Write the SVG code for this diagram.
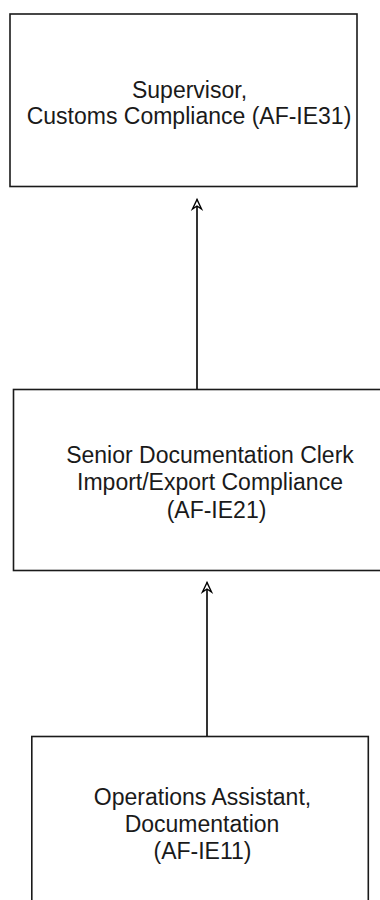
<svg xmlns="http://www.w3.org/2000/svg" width="380" height="900" viewBox="0 0 380 900">
  <style>
    .box { fill: #ffffff; stroke: #1a1a1a; stroke-width: 1.6; }
    .lbl { font-family: "Liberation Sans", Arial, sans-serif; font-size: 23px; fill: #1a1a1a; text-anchor: middle; }
    .conn { stroke: #000000; stroke-width: 1.6; fill: none; }
  </style>
  <defs>
    <marker id="arrow" markerUnits="userSpaceOnUse" markerWidth="14" markerHeight="14" viewBox="-7 -1 14 14" refX="0" refY="0" orient="auto-start-reverse">
      <path d="M0,0 L-4.5,9.5 L0,6.5 L4.5,9.5 Z" fill="#ffffff" stroke="#000000" stroke-width="1.4" stroke-linejoin="miter"/>
    </marker>
  </defs>
  <rect width="380" height="900" fill="#ffffff"/>
  <g id="connectors">
    <path class="conn" d="M197,390 L197,199.5"/>
    <path class="conn" d="M207,737 L207,582.5"/>
    <path d="M197,199.5 L192.5,209 L197,206 L201.5,209 Z" fill="#ffffff" stroke="#000000" stroke-width="1.4"/>
    <path d="M207,582.5 L202.5,592 L207,589 L211.5,592 Z" fill="#ffffff" stroke="#000000" stroke-width="1.4"/>
  </g>
  <g id="node-ie31">
    <rect class="box" x="10" y="14" width="347" height="172.5"/>
    <text class="lbl" x="189.5" y="97.5">Supervisor,</text>
    <text class="lbl" x="189" y="124">Customs Compliance (AF-IE31)</text>
  </g>
  <g id="node-ie21">
    <rect class="box" x="13.5" y="389.5" width="400" height="181"/>
    <text class="lbl" x="210" y="462.5">Senior Documentation Clerk</text>
    <text class="lbl" x="210" y="490">Import/Export Compliance</text>
    <text class="lbl" x="216.5" y="517.5">(AF-IE21)</text>
  </g>
  <g id="node-ie11">
    <rect class="box" x="31.8" y="736.5" width="336.5" height="200"/>
    <text class="lbl" x="202.5" y="805">Operations Assistant,</text>
    <text class="lbl" x="202" y="832">Documentation</text>
    <text class="lbl" x="202.5" y="859">(AF-IE11)</text>
  </g>
</svg>
